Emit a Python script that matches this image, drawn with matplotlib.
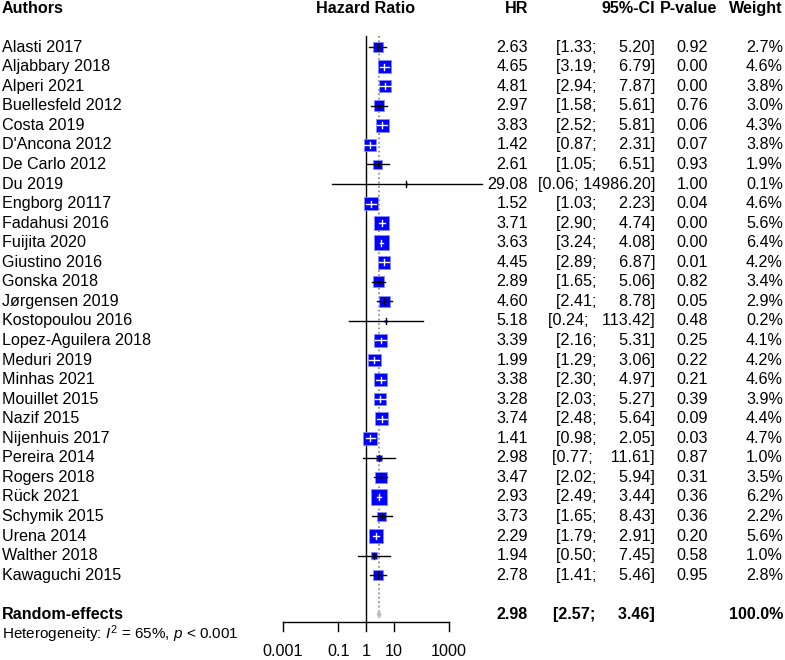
import matplotlib.pyplot as plt
import matplotlib.transforms as mtransforms
from matplotlib.patches import Rectangle, Polygon
import numpy as np

plt.rcParams['font.family'] = ['Liberation Sans', 'DejaVu Sans']
plt.rcParams['mathtext.fontset'] = 'custom'
plt.rcParams['mathtext.rm'] = 'Liberation Sans'
plt.rcParams['mathtext.it'] = 'Liberation Sans:italic'
FS = 11.6

authors = ["Alasti 2017", "Aljabbary 2018", "Alperi 2021", "Buellesfeld 2012", "Costa 2019",
           "D'Ancona 2012", "De Carlo 2012", "Du 2019", "Engborg 20117", "Fadahusi 2016",
           "Fuijita 2020", "Giustino 2016", "Gonska 2018", "Jørgensen 2019", "Kostopoulou 2016",
           "Lopez-Aguilera 2018", "Meduri 2019", "Minhas 2021", "Mouillet 2015", "Nazif 2015",
           "Nijenhuis 2017", "Pereira 2014", "Rogers 2018", "Rück 2021", "Schymik 2015",
           "Urena 2014", "Walther 2018", "Kawaguchi 2015"]
hr = [2.63, 4.65, 4.81, 2.97, 3.83, 1.42, 2.61, 29.08, 1.52, 3.71, 3.63, 4.45, 2.89, 4.60,
      5.18, 3.39, 1.99, 3.38, 3.28, 3.74, 1.41, 2.98, 3.47, 2.93, 3.73, 2.29, 1.94, 2.78]
lower = [1.33, 3.19, 2.94, 1.58, 2.52, 0.87, 1.05, 0.06, 1.03, 2.90, 3.24, 2.89, 1.65, 2.41,
         0.24, 2.16, 1.29, 2.30, 2.03, 2.48, 0.98, 0.77, 2.02, 2.49, 1.65, 1.79, 0.50, 1.41]
upper = [5.20, 6.79, 7.87, 5.61, 5.81, 2.31, 6.51, 14986.20, 2.23, 4.74, 4.08, 6.87, 5.06, 8.78,
         113.42, 5.31, 3.06, 4.97, 5.27, 5.64, 2.05, 11.61, 5.94, 3.44, 8.43, 2.91, 7.45, 5.46]
pval = [0.92, 0.00, 0.00, 0.76, 0.06, 0.07, 0.93, 1.00, 0.04, 0.00, 0.00, 0.01, 0.82, 0.05,
        0.48, 0.25, 0.22, 0.21, 0.39, 0.09, 0.03, 0.87, 0.31, 0.36, 0.36, 0.20, 0.58, 0.95]
weight = [2.7, 4.6, 3.8, 3.0, 4.3, 3.8, 1.9, 0.1, 4.6, 5.6, 6.4, 4.2, 3.4, 2.9, 0.2, 4.1,
          4.2, 4.6, 3.9, 4.4, 4.7, 1.0, 3.5, 6.2, 2.2, 5.6, 1.0, 2.8]
re_hr, re_lo, re_hi = 2.98, 2.57, 3.46
ticks = [0.001, 0.1, 1, 10, 1000]
tick_labels = ["0.001", "0.1", "1", "10", "1000"]

W, H = 785, 660
fig = plt.figure(figsize=(W / 100, H / 100), dpi=100)
ax = fig.add_axes([283 / W, 0, 166 / W, 1])
ax.set_xscale('log')
ax.set_xlim(0.001, 1000)
ax.set_ylim(31.34, -2.41)
ax.axis('off')
px_dec = 166 / 6.0
px_row = 19.56
tr = mtransforms.blended_transform_factory(fig.transFigure, ax.transData)

def col(x):
    return x / W

n = len(authors)
re_row = n + 1
# headers
ax.text(col(2), -2, "Authors", transform=tr, ha='left', va='center', fontsize=FS, fontweight='bold')
ax.text(1, -2, "Hazard Ratio", ha='center', va='center', fontsize=FS, fontweight='bold')
ax.text(col(528), -2, "HR", transform=tr, ha='right', va='center', fontsize=FS, fontweight='bold')
ax.text(col(655), -2, "95%-CI", transform=tr, ha='right', va='center', fontsize=FS, fontweight='bold')
ax.text(col(689), -2, "P-value", transform=tr, ha='center', va='center', fontsize=FS, fontweight='bold')
ax.text(col(783), -2, "Weight", transform=tr, ha='right', va='center', fontsize=FS, fontweight='bold')

for i in range(n):
    ax.text(col(2), i, authors[i], transform=tr, ha='left', va='center', fontsize=FS)
    ax.text(col(528), i, f"{hr[i]:.2f}", transform=tr, ha='right', va='center', fontsize=FS)
    ax.text(col(655), i, f"[{lower[i]:.2f}; {upper[i]:8.2f}]", transform=tr, ha='right', va='center', fontsize=FS)
    ax.text(col(692), i, f"{pval[i]:.2f}", transform=tr, ha='center', va='center', fontsize=FS)
    ax.text(col(783), i, f"{weight[i]:.1f}%", transform=tr, ha='right', va='center', fontsize=FS)

    side = 15.6 * np.sqrt(weight[i] / max(weight))
    hx = side / 2 / px_dec
    hy = side / 2 / px_row
    x0 = hr[i] * 10 ** (-hx)
    x1 = hr[i] * 10 ** hx
    rect = Rectangle((x0, i - hy), x1 - x0, 2 * hy, facecolor='#0000ff', edgecolor='#8c8cff', lw=0.6, zorder=2)
    ax.add_patch(rect)
    inside = lower[i] >= x0 and upper[i] <= x1
    lc = 'white' if inside else 'black'
    ax.plot([lower[i], upper[i]], [i, i], color=lc, lw=1, zorder=3, clip_on=False)
    ax.plot([hr[i], hr[i]], [i - 0.15, i + 0.15], color=lc, lw=1, zorder=3, clip_on=False)

# pooled
ax.text(col(2), re_row, "Random-effects", transform=tr, ha='left', va='center', fontsize=FS, fontweight='bold')
ax.text(col(528), re_row, f"{re_hr:.2f}", transform=tr, ha='right', va='center', fontsize=FS, fontweight='bold')
ax.text(col(655), re_row, f"[{re_lo:.2f}; {re_hi:8.2f}]", transform=tr, ha='right', va='center', fontsize=FS, fontweight='bold')
ax.text(col(783), re_row, "100.0%", transform=tr, ha='right', va='center', fontsize=FS, fontweight='bold')
ax.text(col(2), re_row + 1, r"Heterogeneity: $\mathit{I}^2$ = 65%, $\mathit{p}$ < 0.001", transform=tr,
        ha='left', va='center', fontsize=FS * 0.95)
dia = Polygon([(re_lo, re_row), (re_hr, re_row - 0.2), (re_hi, re_row), (re_hr, re_row + 0.2)],
              closed=True, facecolor='#bebebe', edgecolor='#bebebe', lw=0.8, zorder=3)
ax.add_patch(dia)

# reference lines
ax.plot([1, 1], [-0.56, 29.4], color='black', lw=1, zorder=1, clip_on=False)
ax.plot([re_hr, re_hr], [-0.56, re_row], color='#808080', ls=':', lw=1.2, zorder=1, clip_on=False)

# x axis
ax.plot([ticks[0], ticks[-1]], [29.4, 29.4], color='black', lw=1, clip_on=False)
for t, lab in zip(ticks, tick_labels):
    ax.plot([t, t], [29.4, 29.86], color='black', lw=1, clip_on=False)
    ax.text(t, 30.88, lab, ha='center', va='center', fontsize=FS)

fig.savefig('out.png', dpi=100)
